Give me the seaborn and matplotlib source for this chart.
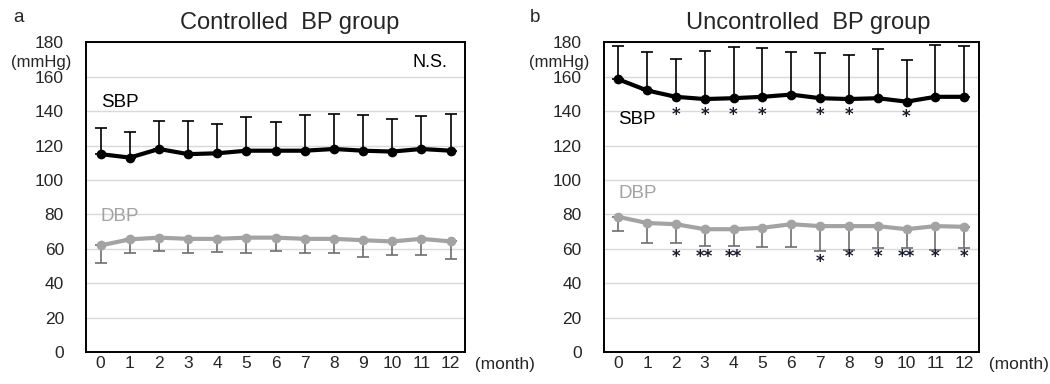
import numpy as np
import pandas as pd
import matplotlib
matplotlib.use('Agg')
import matplotlib.pyplot as plt
import seaborn as sns

# months of follow-up
months = list(range(13))

# controlled BP group (mean, SD shown one-sided)
ctrl_sbp = [115, 113, 118, 115, 115.5, 117, 117, 117, 118, 117, 116.5, 118, 117]
ctrl_sbp_sd = [15, 15, 16, 19, 17, 19.5, 16.5, 21, 20.5, 21, 19, 19, 21.5]
ctrl_dbp = [62, 65.5, 66.5, 65.8, 65.8, 66.5, 66.5, 65.8, 65.8, 65, 64.3, 65.8, 64.3]
ctrl_dbp_sd = [10, 8, 7.5, 8.5, 7.5, 9, 7.5, 8.5, 8.5, 9.5, 8, 9.5, 10]

# uncontrolled BP group
unc_sbp = [158.5, 152, 148.3, 147, 147.5, 148.3, 149.6, 147.5, 147, 147.5, 145.5, 148.3, 148.3]
unc_sbp_sd = [19.5, 22.3, 21.7, 28, 29.8, 28.2, 24.8, 26.3, 25.4, 28.5, 23.9, 30.3, 29.7]
unc_dbp = [78.6, 75, 74.3, 71.4, 71.4, 72.2, 74.3, 73.2, 73.2, 73.2, 71.4, 73.2, 72.8]
unc_dbp_sd = [8.3, 11.5, 10.8, 9.7, 9.7, 11, 13.1, 14.4, 13.6, 13, 11.2, 13.6, 12.6]

# significance marks vs month 0
unc_sbp_sig = {2: '*', 3: '*', 4: '*', 5: '*', 7: '*', 8: '*', 10: '*'}
unc_dbp_sig = {2: '*', 3: '**', 4: '**', 7: '*', 8: '*', 9: '*', 10: '**', 11: '*', 12: '*'}

sns.set_theme(style='white')
plt.rcParams['font.family'] = ['Liberation Sans', 'DejaVu Sans']

fig = plt.figure(figsize=(10.5, 3.84), dpi=100)
ax_a = fig.add_axes([0.082, 0.083, 0.361, 0.807])
ax_b = fig.add_axes([0.575, 0.083, 0.357, 0.807])

sbp_col = 'black'
dbp_col = '#a3a3a3'
dbp_err = '#6e6e6e'


def draw_panel(ax, sbp, sbp_sd, dbp, dbp_sd):
    df = pd.DataFrame({'month': months * 2,
                       'bp': sbp + dbp,
                       'kind': ['SBP'] * 13 + ['DBP'] * 13})
    # one-sided SD bars
    ax.errorbar(months, sbp, yerr=[np.zeros(13), sbp_sd], fmt='none',
                ecolor=sbp_col, elinewidth=1.2, capsize=4, capthick=1.2, zorder=2)
    ax.errorbar(months, dbp, yerr=[dbp_sd, np.zeros(13)], fmt='none',
                ecolor=dbp_err, elinewidth=1.2, capsize=4, capthick=1.2, zorder=2)
    sns.lineplot(data=df, x='month', y='bp', hue='kind',
                 palette={'SBP': sbp_col, 'DBP': dbp_col}, marker='o',
                 markersize=7, markeredgewidth=0, linewidth=3, legend=False,
                 ax=ax, zorder=3)
    ax.set_xlim(-0.5, 12.5)
    ax.set_ylim(0, 180)
    ax.set_yticks(range(0, 181, 20))
    ax.set_xticks(months)
    ax.set_xticklabels([str(m) for m in months])
    ax.grid(axis='y', color='#d9d9d9', linewidth=1)
    ax.grid(axis='x', visible=False)
    ax.set_axisbelow(True)
    ax.tick_params(axis='both', length=0, labelsize=12.5)
    ax.tick_params(axis='x', pad=3)
    ax.tick_params(axis='y', pad=16)
    for s in ax.spines.values():
        s.set_color('black')
        s.set_linewidth(1.4)
    ax.set_xlabel('')
    ax.set_ylabel('')
    ax.text(-0.118, 0.935, '(mmHg)', transform=ax.transAxes, ha='center',
            va='center', fontsize=12)
    ax.text(1.0, -0.04, '  (month)', transform=ax.transAxes, ha='left',
            va='center', fontsize=12.5)


draw_panel(ax_a, ctrl_sbp, ctrl_sbp_sd, ctrl_dbp, ctrl_dbp_sd)
draw_panel(ax_b, unc_sbp, unc_sbp_sd, unc_dbp, unc_dbp_sd)

# panel a labels
ax_a.text(0.0, 145, 'SBP', fontsize=13.5, color='black', va='center')
ax_a.text(0.0, 79, 'DBP', fontsize=13.5, color=dbp_col, va='center')
ax_a.text(11.3, 168, 'N.S.', fontsize=13, color='black', va='center', ha='center')

# panel b labels
ax_b.text(0.0, 135, 'SBP', fontsize=13.5, color='black', va='center')
ax_b.text(0.0, 92, 'DBP', fontsize=13.5, color=dbp_col, va='center')
star_kw = dict(fontsize=12, ha='center', va='center', fontweight='bold',
               family='DejaVu Sans', color='#1a1a2e')
for m, s in unc_sbp_sig.items():
    yy = 136.5 if m == 10 else 138
    ax_b.text(m, yy, s, **star_kw)
for m, s in unc_dbp_sig.items():
    yy = 52.5 if m == 7 else 55
    ax_b.text(m, yy, s, **star_kw)

fig.text(0.013, 0.955, 'a', fontsize=13.5, va='center')
fig.text(0.505, 0.955, 'b', fontsize=13.5, va='center')
fig.text(0.276, 0.94, 'Controlled  BP group', fontsize=17, ha='center', va='center')
fig.text(0.77, 0.94, 'Uncontrolled  BP group', fontsize=17, ha='center', va='center')

fig.savefig('out.png', dpi=100, facecolor='white')
